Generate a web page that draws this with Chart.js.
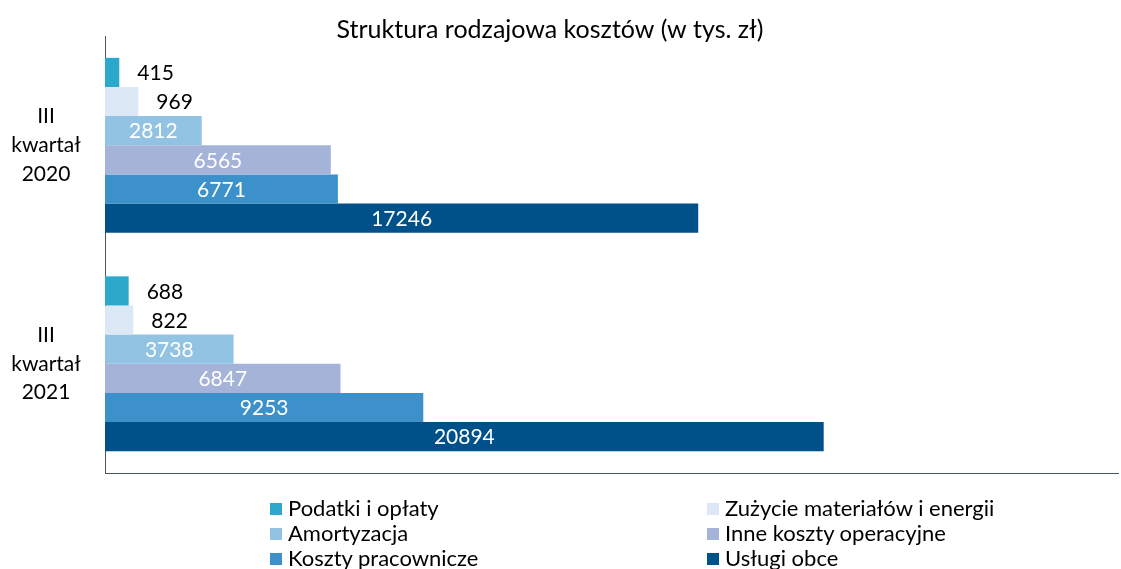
<!DOCTYPE html>
<html><head><meta charset="utf-8">
<script src="https://cdn.jsdelivr.net/npm/chart.js@4/dist/chart.umd.min.js"></script>
<style>
html,body{margin:0;padding:0;background:#fff;}
#wrap{position:relative;width:1121px;height:569px;}
#legend{position:absolute;left:0;top:0;width:1121px;height:569px;pointer-events:none;font-family:Lato,'Noto Sans',sans-serif;font-size:22px;color:#000;}
.li{position:absolute;white-space:nowrap;line-height:25px;height:25px;}
.sw{display:inline-block;width:12px;height:12px;margin-right:6px;vertical-align:1px;}
</style></head>
<body>
<div id="wrap"><canvas id="c" width="1121" height="569"></canvas><div id="legend"></div></div>
<script>
const categories = [['III','kwartał','2020'], ['III','kwartał','2021']];
const seriesNames = ['Podatki i opłaty','Zużycie materiałów i energii','Amortyzacja','Inne koszty operacyjne','Koszty pracownicze','Usługi obce'];
const podatki = [415, 688];
const zuzycie = [969, 822];
const amortyzacja = [2812, 3738];
const inne = [6565, 6847];
const pracownicze = [6771, 9253];
const uslugi = [17246, 20894];
const colors = ['#2CA8CB','#DCE8F5','#92C3E3','#A5B3D9','#3C91CB','#005189'];
const titleText = 'Struktura rodzajowa kosztów (w tys. zł)';

const FONT = 'Lato, "Noto Sans", sans-serif';
const AXIS = '#4A5562';
const mctx = document.createElement('canvas').getContext('2d');
mctx.font = '21px ' + FONT;
const widest = mctx.measureText('kwartał').width;
const tickPad = Math.max(0, 105 - 46 - widest / 2);

const values = [podatki, zuzycie, amortyzacja, inne, pracownicze, uslugi];

const labelPlugin = {
  id: 'labels',
  afterDatasetsDraw(chart) {
    const ctx = chart.ctx;
    ctx.save();
    ctx.font = '21px ' + FONT;
    ctx.textBaseline = 'middle';
    chart.data.datasets.forEach((ds, di) => {
      const meta = chart.getDatasetMeta(di);
      meta.data.forEach((bar, i) => {
        const v = ds.data[i];
        const base = bar.base;
        if (v < 1500) {
          ctx.fillStyle = '#000';
          ctx.textAlign = 'left';
          ctx.fillText(String(v), bar.x + 18, bar.y + 1);
        } else {
          ctx.fillStyle = '#fff';
          ctx.textAlign = 'center';
          ctx.fillText(String(v), (bar.x + base) / 2, bar.y + 1);
        }
      });
    });
    ctx.restore();
  },
  afterDraw(chart) {
    const ctx = chart.ctx;
    ctx.save();
    ctx.font = '25px ' + FONT;
    ctx.fillStyle = '#000';
    ctx.textAlign = 'center';
    ctx.textBaseline = 'middle';
    ctx.fillText(titleText, 550, 30);
    ctx.restore();
  }
};

new Chart(document.getElementById('c'), {
  type: 'bar',
  data: {
    labels: categories,
    datasets: seriesNames.map((n, i) => ({
      label: n,
      data: values[i],
      backgroundColor: colors[i],
      borderWidth: 0,
      categoryPercentage: 0.8,
      barPercentage: 1.0
    }))
  },
  options: {
    indexAxis: 'y',
    responsive: false,
    animation: false,
    layout: { padding: { top: 36, bottom: 0, left: 0, right: 3 } },
    plugins: { legend: { display: false }, title: { display: false }, tooltip: { enabled: false } },
    scales: {
      x: {
        min: 0, max: 29450,
        grid: { display: false, drawTicks: false },
        border: { display: true, color: AXIS, width: 1 },
        ticks: { display: false },
        afterFit(s) { s.height = 96; s.paddingLeft = 0; s.paddingRight = 0; }
      },
      y: {
        grid: { display: false, drawTicks: false },
        border: { display: true, color: AXIS, width: 1 },
        ticks: { color: '#000', font: { family: FONT, size: 21, lineHeight: 1.38 }, crossAlign: 'center', padding: tickPad },
        afterFit(s) { s.width = 105; s.paddingTop = 0; s.paddingBottom = 0; }
      }
    }
  },
  plugins: [labelPlugin]
});

const legendPos = [[270,495],[707,495],[270,520],[707,520],[270,545],[707,545]];
const lg = document.getElementById('legend');
seriesNames.forEach((n, i) => {
  const d = document.createElement('div');
  d.className = 'li';
  d.style.left = legendPos[i][0] + 'px';
  d.style.top = legendPos[i][1] + 'px';
  d.innerHTML = '<span class="sw" style="background:' + colors[i] + '"></span>' + n;
  lg.appendChild(d);
});
</script>
</body></html>
